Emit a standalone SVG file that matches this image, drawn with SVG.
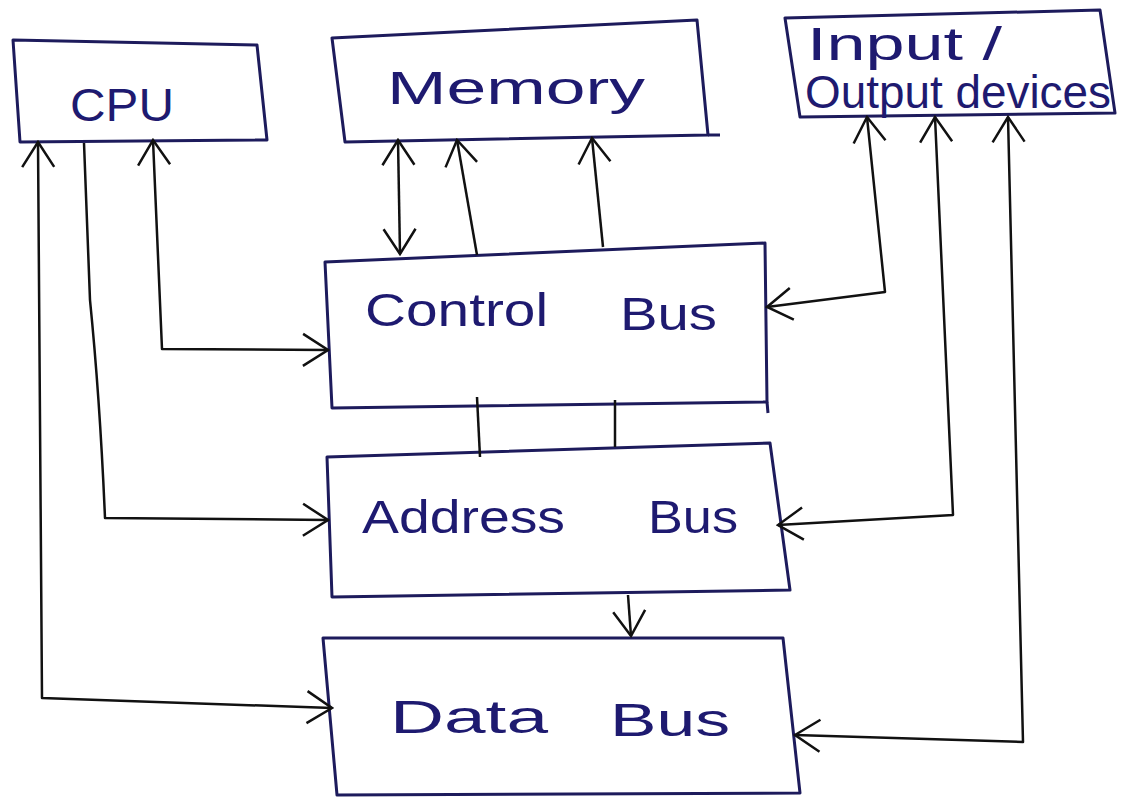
<svg xmlns="http://www.w3.org/2000/svg" width="1122" height="805" viewBox="0 0 1122 805">
<defs>
<style>
.box{fill:none;stroke:#1d1b5c;stroke-width:3;stroke-linejoin:round}
.lbl{font-family:"Liberation Sans",Arial,sans-serif;fill:#1e1a70;font-size:46px}
.con{fill:none;stroke:#111;stroke-width:2.5;stroke-linejoin:round}
</style>
<marker id="ar" viewBox="-28 -20 30 40" refX="0" refY="0" markerWidth="30" markerHeight="40" markerUnits="userSpaceOnUse" orient="auto-start-reverse">
<path d="M-25,-16 L0,0 L-25,16" fill="none" stroke="#111" stroke-width="2.5"/>
</marker>
</defs>
<rect width="1122" height="805" fill="#fff"/>
<g id="cpu">
<polygon class="box" points="13,40 257,45 267,140 20,142"/>
<text class="lbl" x="70" y="121" font-size="50" textLength="104" lengthAdjust="spacingAndGlyphs">CPU</text>
</g>
<g id="memory">
<polygon class="box" points="332,38 697,20 708,135 345,142"/>
<line class="box" x1="708" y1="135" x2="720" y2="135"/>
<text class="lbl" x="387" y="104" font-size="50" textLength="258" lengthAdjust="spacingAndGlyphs">Memory</text>
</g>
<g id="io">
<polygon class="box" points="785,18 1100,10 1115,113 800,117"/>
<text class="lbl" x="807" y="60" font-size="36" textLength="195" lengthAdjust="spacingAndGlyphs">Input /</text>
<text class="lbl" x="805" y="108" font-size="36" textLength="306" lengthAdjust="spacingAndGlyphs">Output devices</text>
</g>
<g id="control">
<polygon class="box" points="325,262 765,243 767,402 332,408"/>
<line class="box" x1="767" y1="402" x2="768" y2="413"/>
<text class="lbl" x="365" y="326" textLength="183" lengthAdjust="spacingAndGlyphs">Control</text>
<text class="lbl" x="620" y="330" textLength="97" lengthAdjust="spacingAndGlyphs">Bus</text>
</g>
<g id="address">
<polygon class="box" points="327,457 770,443 790,590 332,597"/>
<text class="lbl" x="362" y="533" textLength="203" lengthAdjust="spacingAndGlyphs">Address</text>
<text class="lbl" x="648" y="533" textLength="90" lengthAdjust="spacingAndGlyphs">Bus</text>
</g>
<g id="data">
<polygon class="box" points="323,638 783,638 800,793 337,795"/>
<text class="lbl" x="390" y="733" font-size="50" textLength="158" lengthAdjust="spacingAndGlyphs">Data</text>
<text class="lbl" x="610" y="736" font-size="50" textLength="120" lengthAdjust="spacingAndGlyphs">Bus</text>
</g>
<g id="connectors">
<path class="con" d="M38,142 L42,698 L332,708" marker-start="url(#ar)" marker-end="url(#ar)"/>
<path class="con" d="M84,143 L90,300 Q100,400 105,518 L328,520" marker-end="url(#ar)"/>
<path class="con" d="M153,140 L162,349 L328,350" marker-start="url(#ar)" marker-end="url(#ar)"/>
<path class="con" d="M398,140 L400,254" marker-start="url(#ar)" marker-end="url(#ar)"/>
<path class="con" d="M477,255 L457,140" marker-end="url(#ar)"/>
<path class="con" d="M603,247 L592,138" marker-end="url(#ar)"/>
<path class="con" d="M867,117 L885,292 L767,307" marker-start="url(#ar)" marker-end="url(#ar)"/>
<path class="con" d="M935,117 L953,515 L778,525" marker-start="url(#ar)" marker-end="url(#ar)"/>
<path class="con" d="M1008,117 L1023,742 L795,735" marker-start="url(#ar)" marker-end="url(#ar)"/>
<path class="con" d="M477,397 L480,457"/>
<path class="con" d="M615,400 L615,447"/>
<path class="con" d="M628,595 L631,636" marker-end="url(#ar)"/>
</g>
</svg>
